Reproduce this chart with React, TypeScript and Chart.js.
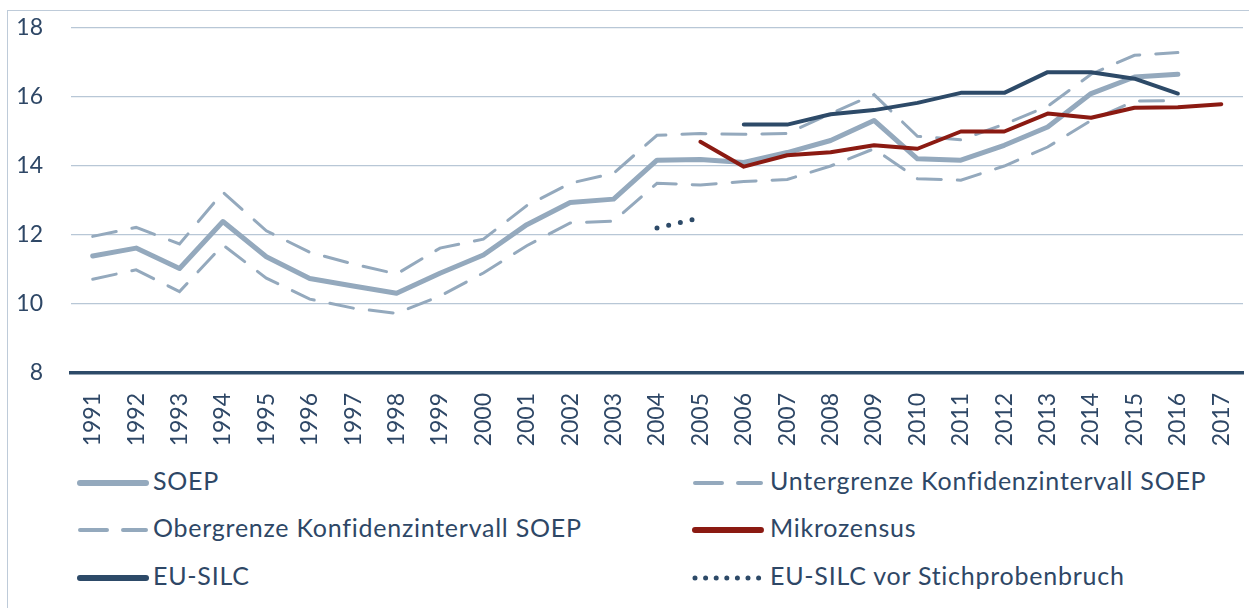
import React, { useEffect, useRef } from "react";
import { Chart, registerables } from "chart.js";

Chart.register(...registerables);

const years = ["1991","1992","1993","1994","1995","1996","1997","1998","1999","2000","2001","2002","2003","2004","2005","2006","2007","2008","2009","2010","2011","2012","2013","2014","2015","2016","2017"];

const soep = [11.39, 11.62, 11.03, 12.39, 11.37, 10.74, 10.52, 10.31, 10.89, 11.42, 12.30, 12.94, 13.04, 14.17, 14.19, 14.10, 14.39, 14.74, 15.32, 14.21, 14.17, 14.60, 15.13, 16.10, 16.58, 16.66, null];
const untergrenze = [10.72, 10.99, 10.36, 11.71, 10.75, 10.14, 9.88, 9.73, 10.23, 10.90, 11.69, 12.35, 12.40, 13.50, 13.45, 13.55, 13.61, 14.00, 14.50, 13.63, 13.59, 14.00, 14.55, 15.32, 15.88, 15.90, null];
const obergrenze = [11.96, 12.22, 11.74, 13.24, 12.12, 11.50, 11.16, 10.87, 11.62, 11.88, 12.85, 13.50, 13.79, 14.89, 14.94, 14.92, 14.94, 15.52, 16.07, 14.86, 14.76, 15.21, 15.73, 16.66, 17.21, 17.29, null];
const mikrozensus = [null, null, null, null, null, null, null, null, null, null, null, null, null, null, 14.70, 13.98, 14.31, 14.40, 14.60, 14.50, 15.00, 15.00, 15.52, 15.40, 15.69, 15.70, 15.79];
const euSilc = [null, null, null, null, null, null, null, null, null, null, null, null, null, null, null, 15.20, 15.20, 15.50, 15.62, 15.83, 16.12, 16.12, 16.72, 16.72, 16.53, 16.10, null];
const euSilcVorBruch = [null, null, null, null, null, null, null, null, null, null, null, null, null, 12.20, 12.50, null, null, null, null, null, null, null, null, null, null, null, null];

const yMin = 8;
const yMax = 18;
const yStep = 2;

const C_SOEP = "#94A9BD";
const C_SILC = "#2D4A68";
const C_MIKRO = "#8B1A12";
const C_TEXT = "#2E4766";
const C_GRID = "#B8C7D6";
const FONT = "Lato, 'Open Sans', sans-serif";

type LegendItem = { label: string; kind: "solid" | "dashed" | "dotted"; color: string };
const legendItems: LegendItem[] = [
  { label: "SOEP", kind: "solid", color: C_SOEP },
  { label: "Untergrenze Konfidenzintervall SOEP", kind: "dashed", color: C_SOEP },
  { label: "Obergrenze Konfidenzintervall SOEP", kind: "dashed", color: C_SOEP },
  { label: "Mikrozensus", kind: "solid", color: C_MIKRO },
  { label: "EU-SILC", kind: "solid", color: C_SILC },
  { label: "EU-SILC vor Stichprobenbruch", kind: "dotted", color: C_SILC },
];

function Sample({ item, width }: { item: LegendItem; width: number }) {
  let props: any = { strokeLinecap: "round" };
  if (item.kind === "solid") props = { ...props, strokeWidth: 6 };
  if (item.kind === "dashed") props = { ...props, strokeWidth: 4, strokeDasharray: "27 16" };
  if (item.kind === "dotted") props = { ...props, strokeWidth: 5, strokeDasharray: "0 10.6" };
  return (
    <svg width={width} height={12} style={{ display: "block" }}>
      <line x1={3} y1={6} x2={width - 3} y2={6} stroke={item.color} {...props} />
    </svg>
  );
}

export default function App() {
  const ref = useRef<HTMLCanvasElement | null>(null);

  useEffect(() => {
    if (!ref.current) return;
    const chart = new Chart(ref.current, {
      type: "line",
      data: {
        labels: years,
        datasets: [
          { label: "EU-SILC", data: euSilc, borderColor: C_SILC, borderWidth: 4, pointRadius: 0, borderCapStyle: "round", borderJoinStyle: "round", order: 1, tension: 0 },
          { label: "Mikrozensus", data: mikrozensus, borderColor: C_MIKRO, borderWidth: 4, pointRadius: 0, borderCapStyle: "round", borderJoinStyle: "round", order: 2, tension: 0 },
          { label: "EU-SILC vor Stichprobenbruch", data: euSilcVorBruch, borderColor: C_SILC, borderWidth: 5, borderDash: [0, 12], borderCapStyle: "round", pointRadius: 0, order: 3 },
          { label: "SOEP", data: soep, borderColor: C_SOEP, borderWidth: 5, pointRadius: 0, borderCapStyle: "round", borderJoinStyle: "round", order: 4 },
          { label: "Untergrenze Konfidenzintervall SOEP", data: untergrenze, borderColor: C_SOEP, borderWidth: 3, borderDash: [24, 16], borderCapStyle: "round", pointRadius: 0, order: 5 },
          { label: "Obergrenze Konfidenzintervall SOEP", data: obergrenze, borderColor: C_SOEP, borderWidth: 3, borderDash: [24, 16], borderCapStyle: "round", pointRadius: 0, order: 6 },
        ] as any,
      },
      options: {
        animation: false,
        responsive: false,
        events: [],
        layout: { padding: { left: 8, right: 6, top: 28, bottom: 0 } },
        plugins: { legend: { display: false }, tooltip: { enabled: false } },
        scales: {
          x: {
            offset: true,
            grid: { display: false, drawTicks: false },
            border: { display: true, color: C_SILC, width: 3.5 },
            ticks: { color: C_TEXT, font: { family: FONT, size: 23 }, minRotation: 90, maxRotation: 90, padding: 20, autoSkip: false },
            afterFit: (s: any) => { s.height = 87; s.paddingLeft = 0; s.paddingRight = 0; },
          },
          y: {
            min: yMin,
            max: yMax,
            grid: { color: C_GRID, lineWidth: 1.2, drawTicks: false },
            border: { display: false },
            ticks: { stepSize: yStep, color: C_TEXT, font: { family: FONT, size: 23 }, padding: 28 },
            afterFit: (s: any) => { s.width = 63; s.paddingTop = 0; s.paddingBottom = 0; },
          },
        },
      },
    });
    return () => chart.destroy();
  }, []);

  const rowY = [483, 530, 578];
  const colSample = [77, 692];
  const colText = [153, 770];
  const sampleW = [72, 72];

  return (
    <div style={{ position: "fixed", left: 0, top: 0, width: 1249, height: 608, overflow: "hidden", background: "#fff" }}>
      <div style={{ position: "absolute", left: 7, top: 10, width: 1260, height: 620, borderLeft: "1.5px solid #BECBD9", borderTop: "1.5px solid #BECBD9" }} />
      <canvas ref={ref} width={1249} height={460} style={{ position: "absolute", left: 0, top: 0 }} />
      {legendItems.map((item, i) => {
        const col = i % 2;
        const row = Math.floor(i / 2);
        return (
          <div key={item.label} style={{ position: "absolute", left: colSample[col], top: rowY[row] - 6 }}>
            <Sample item={item} width={sampleW[col]} />
            <span style={{ position: "absolute", left: colText[col] - colSample[col], top: -12, whiteSpace: "nowrap", fontFamily: FONT, fontSize: 25, letterSpacing: "0.75px", lineHeight: "30px", color: C_TEXT }}>{item.label}</span>
          </div>
        );
      })}
    </div>
  );
}
